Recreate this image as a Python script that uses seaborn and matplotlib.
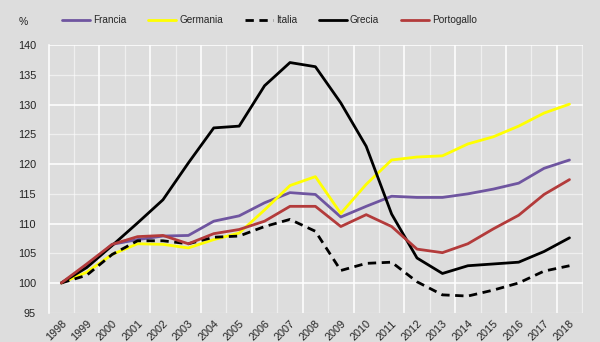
import numpy as np
import pandas as pd
import matplotlib
matplotlib.use("Agg")
import matplotlib.pyplot as plt
import seaborn as sns
from matplotlib import font_manager

years = list(range(1998, 2019))
francia = [100, 102.8, 106.5, 107.3, 107.9, 108.0, 110.4, 111.3, 113.5, 115.2, 114.9,
           111.1, 112.9, 114.6, 114.4, 114.4, 115.0, 115.8, 116.8, 119.3, 120.7]
germania = [100, 101.8, 104.8, 106.6, 106.5, 105.9, 107.3, 108.4, 112.3, 116.4, 117.9,
            111.7, 116.6, 120.7, 121.2, 121.4, 123.4, 124.6, 126.4, 128.6, 130.1]
italia = [100, 101.3, 104.8, 107.1, 107.1, 106.6, 107.7, 107.9, 109.5, 110.7, 108.7,
          102.1, 103.3, 103.5, 100.2, 98.0, 97.8, 98.8, 100.0, 102.0, 102.9]
grecia = [100, 102.6, 106.3, 110.1, 114.0, 120.2, 126.1, 126.4, 133.2, 137.1, 136.4,
          130.3, 123.0, 111.6, 104.2, 101.6, 102.9, 103.2, 103.5, 105.3, 107.6]
portogallo = [100, 103.2, 106.5, 107.8, 108.0, 106.6, 108.3, 109.0, 110.4, 112.9, 112.9,
              109.5, 111.5, 109.5, 105.7, 105.1, 106.6, 109.1, 111.4, 114.9, 117.4]

series = {"Francia": francia, "Germania": germania, "Italia": italia,
          "Grecia": grecia, "Portogallo": portogallo}
order = list(series.keys())
colors = {"Francia": "#6f55a0", "Germania": "#ffff00", "Italia": "#000000",
          "Grecia": "#000000", "Portogallo": "#b33b3b"}
dashes = {"Francia": "", "Germania": "", "Italia": (3, 2), "Grecia": "", "Portogallo": ""}

df = pd.DataFrame([{"anno": y, "paese": k, "valore": v}
                   for k, vals in series.items() for y, v in zip(years, vals)])

sns.set_theme(style="white")
installed = {f.name for f in font_manager.fontManager.ttflist}
narrow = "Liberation Sans Narrow" if "Liberation Sans Narrow" in installed else None
plt.rcParams["font.family"] = ["Liberation Sans", "DejaVu Sans"]
bg = "#dddddd"
fig = plt.figure(figsize=(6, 3.42), dpi=100, facecolor=bg)
ax = fig.add_axes([0.081, 0.0857, 0.891, 0.7818])
ax.set_facecolor(bg)

# grid lines
ylo, yhi = 95, 140
for v in range(ylo, yhi + 1, 5):
    ax.axhline(v, color="white", lw=1.1 if v % 10 == 0 else 0.9,
               alpha=1.0 if v % 10 == 0 else 0.55, zorder=0)
for i, y in enumerate(years):
    ax.axvline(y + 0.5, color="white", lw=1.1 if i % 2 == 1 else 0.9,
               alpha=1.0 if i % 2 == 1 else 0.55, zorder=0)

sns.lineplot(data=df, x="anno", y="valore", hue="paese", style="paese",
             hue_order=order, style_order=order, palette=colors, dashes=dashes,
             linewidth=2.0, ax=ax)

ax.set_xlim(years[0] - 0.5, years[-1] + 0.54)
ax.set_ylim(ylo, yhi)
ax.set_xticks(years)
ax.set_xticklabels([str(y) for y in years], rotation=45, ha="right",
                   rotation_mode="anchor", fontsize=7.8, color="#222222")
ax.set_yticks(range(ylo, yhi + 1, 5))
ax.set_yticklabels([str(v) for v in range(ylo, yhi + 1, 5)], fontsize=7.8, color="#222222")
ax.tick_params(axis="both", length=0)
ax.tick_params(axis="y", pad=9)
ax.tick_params(axis="x", pad=4)
ax.set_xlabel("")
ax.set_ylabel("")
for s in ["top", "right", "bottom"]:
    ax.spines[s].set_visible(False)
ax.spines["left"].set_color("white")
ax.spines["left"].set_linewidth(1.1)

if narrow:
    leg_font = font_manager.FontProperties(family=[narrow, "Liberation Sans"], size=8.3)
else:
    leg_font = font_manager.FontProperties(family=["Liberation Sans"], size=7.2)
sns.move_legend(ax, "center left", bbox_to_anchor=(0.103, 0.941),
                bbox_transform=fig.transFigure, ncol=5, frameon=False, title=None,
                prop=leg_font, handlelength=2.8, handletextpad=0.3, columnspacing=2.2,
                borderpad=0, borderaxespad=0)

fig.text(0.031, 0.935, "%", fontsize=7.5, color="#222222", ha="left", va="center")

fig.savefig("out.png", dpi=100, facecolor=bg)
